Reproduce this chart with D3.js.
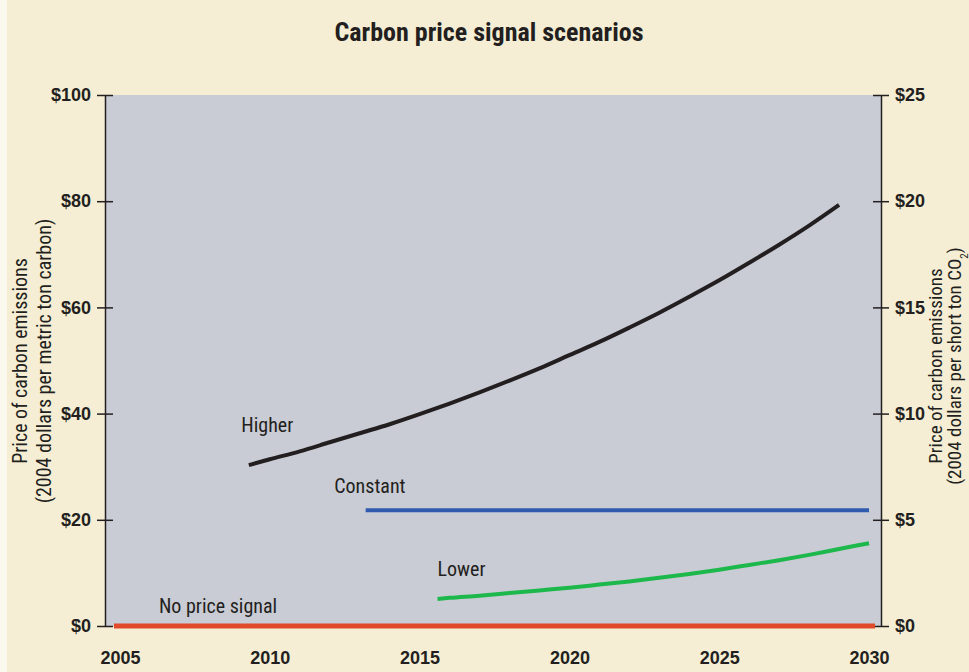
<!DOCTYPE html>
<html>
<head>
<meta charset="utf-8">
<script src="https://cdn.jsdelivr.net/npm/d3@7"></script>
<style>
  body { margin: 0; background: #f5eed4; }
  svg { display: block; font-family: "Liberation Sans Narrow", "Roboto Condensed", "Liberation Sans", sans-serif; }
  .tick text { font-size: 18px; fill: #231f20; font-weight: bold; }
  .lbl { font-size: 20px; fill: #231f20; }
</style>
</head>
<body>
<div id="chart"></div>
<script>
// Data
const higherYears  = [2009.3, 2010, 2011, 2012, 2013, 2014, 2015, 2016, 2017, 2018, 2019, 2020, 2021, 2022, 2023, 2024, 2025, 2026, 2027, 2028, 2029];
const higherValues = [30.3, 31.4, 32.9, 34.6, 36.3, 38.0, 39.9, 41.9, 44.0, 46.2, 48.5, 51.0, 53.5, 56.2, 59.0, 62.0, 65.1, 68.4, 71.8, 75.4, 79.3];
const constantYears  = [2013.2, 2030];
const constantValues = [21.8, 21.8];
const lowerYears  = [2015.6, 2016, 2017, 2018, 2019, 2020, 2021, 2022, 2023, 2024, 2025, 2026, 2027, 2028, 2029, 2030];
const lowerValues = [5.1, 5.3, 5.7, 6.2, 6.7, 7.2, 7.8, 8.4, 9.1, 9.8, 10.6, 11.5, 12.4, 13.4, 14.5, 15.6];
const noneYears  = [2004.8, 2030.2];
const noneValues = [0, 0];

const yearTicks = [2005, 2010, 2015, 2020, 2025, 2030];
const leftTicks = [0, 20, 40, 60, 80, 100];
const rightTicks = [0, 5, 10, 15, 20, 25];

const width = 969, height = 672;
const plot = { left: 105, right: 881, top: 95, bottom: 626 };

const svg = d3.select("#chart").append("svg")
    .attr("width", width)
    .attr("height", height);

svg.append("rect").attr("width", width).attr("height", height).attr("fill", "#f5eed4");
svg.append("rect").attr("width", 7).attr("height", height).attr("fill", "#fbf8ee");

const x = d3.scaleLinear().domain([2004.5, 2030.4]).range([plot.left, plot.right]);
const y = d3.scaleLinear().domain([0, 100]).range([plot.bottom, plot.top]);
const y2 = d3.scaleLinear().domain([0, 25]).range([plot.bottom, plot.top]);

// Plot background
svg.append("rect")
    .attr("x", plot.left).attr("y", plot.top)
    .attr("width", plot.right - plot.left).attr("height", plot.bottom - plot.top)
    .attr("fill", "#c9ccd4");

// Title
svg.append("text")
    .attr("x", 489).attr("y", 41)
    .attr("text-anchor", "middle")
    .style("font-size", "26px").style("font-weight", "bold").style("fill", "#231f20")
    .text("Carbon price signal scenarios");

// Left axis
const leftAxis = svg.append("g")
    .attr("transform", `translate(${plot.left},0)`)
    .call(d3.axisLeft(y).tickValues(leftTicks).tickFormat(d => "$" + d).tickSize(7).tickSizeOuter(0));
leftAxis.selectAll(".tick line").attr("x2", 8).attr("x1", -8).attr("stroke", "#231f20").attr("stroke-width", 1.5);
leftAxis.selectAll(".tick text").attr("x", -14);
leftAxis.select(".domain").attr("stroke", "#231f20").attr("stroke-width", 1.5);

// Right axis
const rightAxis = svg.append("g")
    .attr("transform", `translate(${plot.right},0)`)
    .call(d3.axisRight(y2).tickValues(rightTicks).tickFormat(d => "$" + d).tickSize(7).tickSizeOuter(0));
rightAxis.selectAll(".tick line").attr("x1", -8).attr("x2", 8).attr("stroke", "#231f20").attr("stroke-width", 1.5);
rightAxis.selectAll(".tick text").attr("x", 14);
rightAxis.select(".domain").attr("stroke", "#231f20").attr("stroke-width", 1.5);

// Bottom axis (labels only)
const bottomAxis = svg.append("g")
    .attr("transform", `translate(0,${plot.bottom})`)
    .call(d3.axisBottom(x).tickValues(yearTicks).tickFormat(d3.format("d")).tickSize(0));
bottomAxis.select(".domain").remove();
bottomAxis.selectAll(".tick text").attr("y", 25);

// Axis titles
const leftTitle = svg.append("text")
    .attr("class", "lbl")
    .attr("transform", "translate(27,361) rotate(-90)")
    .attr("text-anchor", "middle");
leftTitle.append("tspan").attr("x", 0).attr("y", 0).text("Price of carbon emissions");
leftTitle.append("tspan").attr("x", 0).attr("y", 24).text("(2004 dollars per metric ton carbon)");

const rightTitle = svg.append("text")
    .attr("class", "lbl")
    .style("font-size", "19px")
    .attr("transform", "translate(942,366) rotate(-90)")
    .attr("text-anchor", "middle");
rightTitle.append("tspan").attr("x", 0).attr("y", 0).text("Price of carbon emissions");
const rt2 = rightTitle.append("tspan").attr("x", 0).attr("y", 19);
rt2.append("tspan").text("(2004 dollars per short ton CO");
rt2.append("tspan").attr("baseline-shift", "sub").style("font-size", "11px").text("2");
rt2.append("tspan").text(")");

// Lines
const line = d3.line()
    .x(d => x(d[0]))
    .y(d => y(d[1]))
    .curve(d3.curveMonotoneX);

const series = [
    { name: "No price signal", years: noneYears, values: noneValues, color: "#e04a2b", width: 5, lx: 2006.3, ly: 2.4 },
    { name: "Lower", years: lowerYears, values: lowerValues, color: "#1db84c", width: 4, lx: 2015.6, ly: 9.4 },
    { name: "Constant", years: constantYears, values: constantValues, color: "#2f5aad", width: 4, lx: 2012.15, ly: 25.0 },
    { name: "Higher", years: higherYears, values: higherValues, color: "#231f20", width: 4, lx: 2009.05, ly: 36.5 }
];

series.forEach(s => {
    const pts = s.years.map((yr, i) => [yr, s.values[i]]);
    svg.append("path")
        .attr("d", line(pts))
        .attr("fill", "none")
        .attr("stroke", s.color)
        .attr("stroke-width", s.width);
    svg.append("text")
        .attr("class", "lbl")
        .attr("x", x(s.lx))
        .attr("y", y(s.ly))
        .text(s.name);
});
</script>
</body>
</html>
